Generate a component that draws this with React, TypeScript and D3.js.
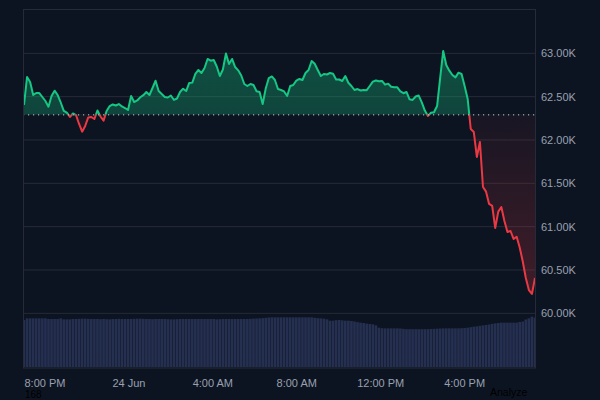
import { useEffect, useRef } from 'react';
import * as d3 from 'd3';

// BTC price, 23 Jun 19:00 -> 24 Jun ~19:20 (168 samples)
const prices = [
  62404, 62727, 62669, 62519, 62542, 62542, 62496, 62450, 62384, 62508,
  62569, 62519, 62433, 62335, 62315, 62265, 62306, 62288, 62185, 62096,
  62162, 62260, 62265, 62242, 62340, 62271, 62223, 62335, 62392, 62410,
  62398, 62415, 62387, 62369, 62346, 62508, 62438, 62456, 62493, 62517,
  62554, 62519, 62600, 62684, 62565, 62531, 62496, 62490, 62513, 62462,
  62479, 62554, 62592, 62565, 62658, 62662, 62762, 62808, 62773, 62831,
  62935, 62915, 62923, 62848, 62738, 62813, 62998, 62877, 62935, 62842,
  62804, 62744, 62646, 62623, 62646, 62635, 62563, 62554, 62415, 62594,
  62715, 62733, 62692, 62588, 62577, 62560, 62508, 62623, 62635, 62685,
  62704, 62692, 62773, 62808, 62912, 62880, 62808, 62738, 62762, 62756,
  62773, 62765, 62698, 62698, 62681, 62738, 62661, 62623, 62577, 62588,
  62571, 62577, 62575, 62623, 62673, 62687, 62677, 62681, 62639, 62650,
  62615, 62609, 62608, 62560, 62540, 62554, 62470, 62462, 62502, 62513,
  62433, 62340, 62277, 62314, 62320, 62392, 62715, 63027, 62865, 62800,
  62750, 62723, 62777, 62762, 62623, 62473, 62127, 62092, 61804, 61977,
  61458, 61404, 61262, 61239, 60985, 61173, 61227, 61066, 60939, 60950,
  60858, 60884, 60760, 60598, 60408, 60269, 60223, 60408,
];

// volume (billions)
const volumes = [
  28.2, 29.2, 29.2, 29.2, 29.2, 29.2, 29.2, 29.2, 28.8, 28.8,
  28.8, 28.8, 29.2, 28.6, 28.6, 28.6, 28.8, 28.8, 28.9, 29.0,
  29.0, 28.9, 28.8, 28.8, 28.8, 28.7, 28.8, 28.7, 28.6, 28.8,
  28.8, 28.9, 28.8, 28.8, 28.8, 28.8, 28.9, 29.0, 29.0, 28.9,
  28.8, 28.8, 28.7, 28.8, 28.8, 28.8, 28.8, 28.7, 28.6, 28.6,
  28.7, 28.8, 28.8, 28.8, 28.8, 28.8, 28.8, 28.8, 28.8, 28.8,
  28.8, 28.8, 28.8, 28.6, 28.7, 28.8, 28.8, 28.8, 28.8, 28.8,
  28.8, 28.8, 28.8, 28.8, 28.9, 29.0, 29.1, 29.2, 29.3, 29.5,
  29.7, 29.8, 29.8, 29.8, 29.8, 29.8, 29.8, 29.8, 29.8, 29.8,
  29.8, 29.8, 29.8, 29.8, 29.8, 29.5, 29.3, 29.2, 29.0, 28.6,
  27.8, 27.8, 28.1, 28.2, 28.0, 27.8, 27.8, 27.6, 27.3, 26.9,
  26.6, 26.4, 26.0, 25.8, 25.6, 25.0, 23.6, 23.3, 23.2, 23.2,
  23.2, 23.2, 23.2, 23.1, 22.9, 22.7, 22.7, 22.7, 22.7, 22.7,
  22.7, 22.7, 22.7, 22.8, 22.9, 23.0, 23.1, 23.2, 23.2, 23.2,
  23.2, 23.2, 23.2, 23.3, 23.4, 23.6, 23.9, 24.2, 24.4, 24.7,
  25.0, 25.2, 25.5, 25.9, 26.2, 26.4, 26.6, 26.6, 26.6, 26.6,
  26.6, 26.6, 27.0, 27.3, 28.5, 29.2, 30.2, 29.6,
];

const priceTicks = [60000, 60500, 61000, 61500, 62000, 62500, 63000];
const timeTicks = [
  new Date(2024, 5, 23, 20, 0),
  new Date(2024, 5, 24, 0, 0),
  new Date(2024, 5, 24, 4, 0),
  new Date(2024, 5, 24, 8, 0),
  new Date(2024, 5, 24, 12, 0),
  new Date(2024, 5, 24, 16, 0),
];
const baseline = 62290;
const startTime = new Date(2024, 5, 23, 19, 0);
const stepMinutes = 8.75;

const App = () => {
  const ref = useRef<SVGSVGElement>(null);

  useEffect(() => {
    const svg = d3.select(ref.current);
    svg.selectAll('*').remove();

    const width = 600;
    const height = 400;
    const left = 23;
    const right = 535;
    const top = 9.5;
    const bottom = 368;
    const font = '"Liberation Sans", Arial, sans-serif';

    const data = prices.map((p, i) => ({
      t: new Date(startTime.getTime() + i * stepMinutes * 60000),
      p,
      v: volumes[i],
    }));

    const x = d3.scaleTime()
      .domain([data[0].t, data[data.length - 1].t])
      .range([24, 535]);
    const y = d3.scaleLinear().domain([60000, 63000]).range([313.33, 53.33]);
    const yVol = d3.scaleLinear().domain([0, 30]).range([367, 317]);
    const yb = y(baseline);

    svg.attr('width', width).attr('height', height);

    svg.append('rect')
      .attr('width', width)
      .attr('height', height)
      .attr('fill', '#0d1421');

    const defs = svg.append('defs');
    defs.append('clipPath').attr('id', 'above')
      .append('rect')
      .attr('x', left).attr('y', top)
      .attr('width', right - left).attr('height', yb - top);
    defs.append('clipPath').attr('id', 'below')
      .append('rect')
      .attr('x', left).attr('y', yb)
      .attr('width', right - left).attr('height', bottom - yb);
    defs.append('clipPath').attr('id', 'plot')
      .append('rect')
      .attr('x', left).attr('y', top)
      .attr('width', right - left).attr('height', bottom - top);

    const gGreen = defs.append('linearGradient')
      .attr('id', 'gGreen')
      .attr('gradientUnits', 'userSpaceOnUse')
      .attr('x1', 0).attr('x2', 0)
      .attr('y1', 50).attr('y2', yb);
    gGreen.append('stop').attr('offset', 0).attr('stop-color', '#16c784').attr('stop-opacity', 0.34);
    gGreen.append('stop').attr('offset', 1).attr('stop-color', '#16c784').attr('stop-opacity', 0.27);

    const gRed = defs.append('linearGradient')
      .attr('id', 'gRed')
      .attr('gradientUnits', 'userSpaceOnUse')
      .attr('x1', 0).attr('x2', 0)
      .attr('y1', yb).attr('y2', 300);
    gRed.append('stop').attr('offset', 0).attr('stop-color', '#ea3943').attr('stop-opacity', 0.05);
    gRed.append('stop').attr('offset', 1).attr('stop-color', '#ea3943').attr('stop-opacity', 0.24);

    // grid
    svg.append('g')
      .selectAll('line')
      .data(priceTicks)
      .enter()
      .append('line')
      .attr('x1', left).attr('x2', right)
      .attr('y1', (d) => y(d)).attr('y2', (d) => y(d))
      .attr('stroke', '#262b37')
      .attr('stroke-width', 1);

    // volume
    const bw = (x(data[1].t) - x(data[0].t)) - 0.4;
    svg.append('g')
      .attr('clip-path', 'url(#plot)')
      .selectAll('rect')
      .data(data)
      .enter()
      .append('rect')
      .attr('x', (d) => x(d.t) - bw / 2)
      .attr('y', (d) => yVol(d.v))
      .attr('width', bw)
      .attr('height', (d) => yVol(0) - yVol(d.v))
      .attr('fill', '#252f50');

    const area = d3.area<any>()
      .x((d) => x(d.t))
      .y0(yb)
      .y1((d) => y(d.p));
    const line = d3.line<any>()
      .x((d) => x(d.t))
      .y((d) => y(d.p));

    svg.append('path')
      .attr('d', area(data))
      .attr('clip-path', 'url(#above)')
      .attr('fill', 'url(#gGreen)');
    svg.append('path')
      .attr('d', area(data))
      .attr('clip-path', 'url(#below)')
      .attr('fill', 'url(#gRed)');

    svg.append('path')
      .attr('d', line(data))
      .attr('clip-path', 'url(#above)')
      .attr('fill', 'none')
      .attr('stroke', '#16c784')
      .attr('stroke-width', 2)
      .attr('stroke-linejoin', 'round');
    svg.append('path')
      .attr('d', line(data))
      .attr('clip-path', 'url(#below)')
      .attr('fill', 'none')
      .attr('stroke', '#ea3943')
      .attr('stroke-width', 2)
      .attr('stroke-linejoin', 'round');

    // baseline
    svg.append('line')
      .attr('x1', left).attr('x2', right)
      .attr('y1', yb).attr('y2', yb)
      .attr('stroke', '#c8ccd6')
      .attr('stroke-width', 1)
      .attr('stroke-dasharray', '1.2 3.8');

    // frame
    svg.append('rect')
      .attr('x', left + 0.5).attr('y', top)
      .attr('width', right - left).attr('height', bottom - top)
      .attr('fill', 'none')
      .attr('stroke', '#262b37');

    // price labels
    svg.append('g')
      .selectAll('text')
      .data(priceTicks)
      .enter()
      .append('text')
      .attr('x', 541)
      .attr('y', (d) => y(d) + 4)
      .attr('fill', '#9aa0b0')
      .style('font-family', font)
      .style('font-size', '11px')
      .text((d) => `${(d / 1000).toFixed(2)}K`);

    const fmtDay = d3.timeFormat('%-d %b');
    const fmtHour = d3.timeFormat('%-I:%M %p');
    svg.append('g')
      .selectAll('text')
      .data(timeTicks)
      .enter()
      .append('text')
      .attr('x', (d) => x(d))
      .attr('y', 387)
      .attr('text-anchor', 'middle')
      .attr('fill', '#9aa0b0')
      .style('font-family', font)
      .style('font-size', '11px')
      .text((d) => (d.getHours() === 0 ? fmtDay(d) : fmtHour(d)));

    // faint footer texts
    svg.append('text')
      .attr('x', 25)
      .attr('y', 398)
      .attr('fill', '#000')
      .style('font-family', font)
      .style('font-size', '10px')
      .text(String(prices.length));

    svg.append('text')
      .attr('x', 490)
      .attr('y', 396)
      .attr('fill', '#000')
      .style('font-family', font)
      .style('font-size', '10.5px')
      .text('Analyze');
  }, []);

  return (
    <div style={{ position: 'fixed', left: 0, top: 0, width: 600, height: 400, background: '#0d1421' }}>
      <svg ref={ref} style={{ display: 'block' }}></svg>
    </div>
  );
};

export default App;
